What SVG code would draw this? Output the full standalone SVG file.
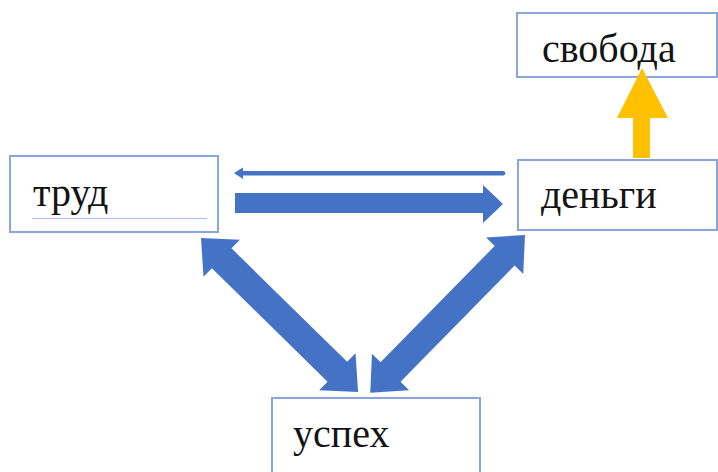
<svg xmlns="http://www.w3.org/2000/svg" width="718" height="472" viewBox="0 0 718 472">
<style>
.box{fill:#fff;stroke:#8aa6da;stroke-width:2}
.lbl{font-family:"Liberation Serif","Times New Roman",serif;font-size:40px;fill:#141414}
.blue{fill:#4472c4}
.gold{fill:#ffc000}
</style>
<rect width="718" height="472" fill="#fff"/>
<g id="node-trud">
<rect class="box" x="10" y="156" width="208" height="76"/>
<line x1="32" y1="218.5" x2="207" y2="218.5" stroke="#a9bde6" stroke-width="1"/>
<text class="lbl" x="33" y="206">труд</text>
</g>
<g id="node-dengi">
<rect class="box" x="518" y="160" width="199" height="70"/>
<text class="lbl" x="541" y="208">деньги</text>
</g>
<g id="node-svoboda">
<rect class="box" x="517" y="13" width="200" height="64"/>
<text class="lbl" x="542" y="62">свобода</text>
</g>
<g id="node-uspeh">
<rect class="box" x="272" y="398" width="208" height="80"/>
<text class="lbl" x="293" y="447">успех</text>
</g>
<g id="connectors">
<polygon class="blue" points="234,173 243,167.5 243,171 503,171 503,175.5 243,175.5 243,179"/>
<circle class="blue" cx="503" cy="173.25" r="2.25"/>
<polygon class="blue" points="235,193 483,193 483,185 503,204 483,223 483,213 235,213"/>
<polygon class="blue" transform="translate(201,238) rotate(44.45)" points="0,0 29,-26 29,-14 191,-14 191,-26 220,0 191,26 191,14 29,14 29,26"/>
<polygon class="blue" transform="translate(525,235) rotate(134.45)" points="0,0 29,-26 29,-14 192,-14 192,-26 221,0 192,26 192,14 29,14 29,26"/>
<polygon class="gold" points="633,158 633,118 617,118 642,68 668,118 650,118 650,158"/>
</g>
</svg>
